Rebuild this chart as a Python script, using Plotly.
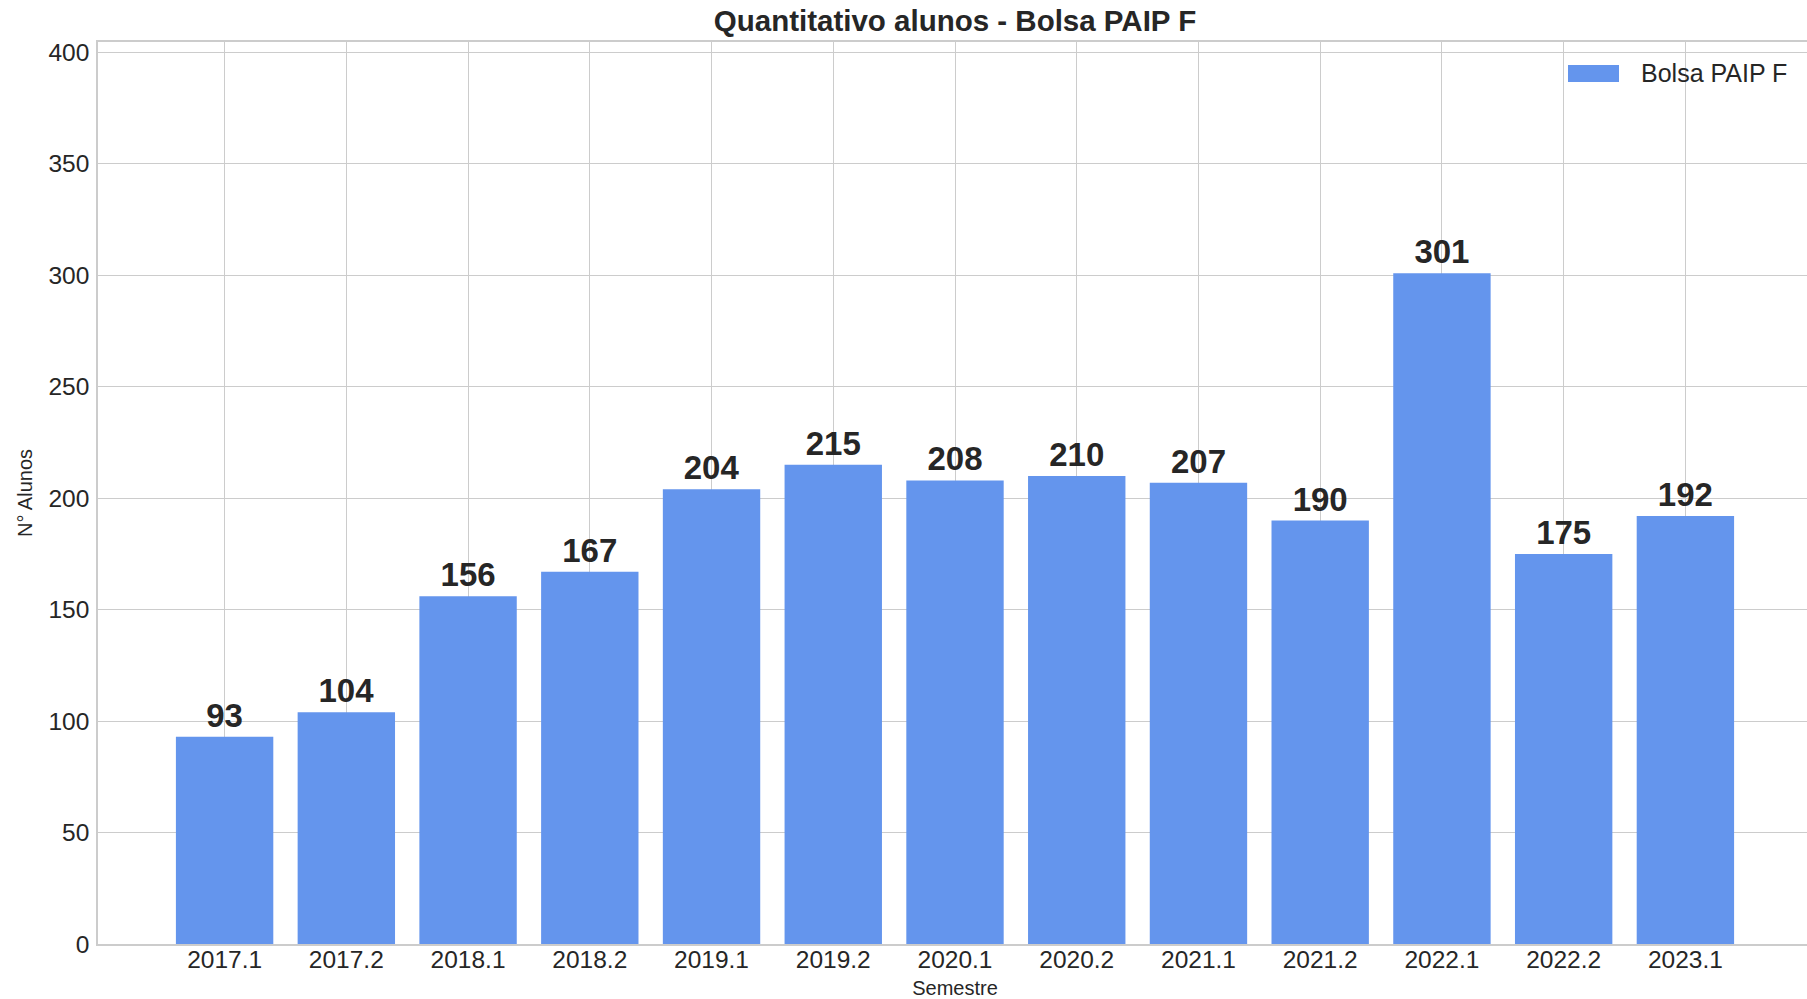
import plotly.graph_objects as go

semestres = ["2017.1", "2017.2", "2018.1", "2018.2", "2019.1", "2019.2", "2020.1",
             "2020.2", "2021.1", "2021.2", "2022.1", "2022.2", "2023.1"]
alunos = [93, 104, 156, 167, 204, 215, 208, 210, 207, 190, 301, 175, 192]
serie_nome = "Bolsa PAIP F"
titulo = "Quantitativo alunos - Bolsa PAIP F"
y_ticks = [0, 50, 100, 150, 200, 250, 300, 350, 400]

# the reference axes extends slightly past the right edge of the 1807px picture
W, H = 1812, 999
L, R, T, B = 98, 0, 42, 55
pw, ph = W - L - R, H - T - B

BAR = "#6495ED"
TXT = "#262626"
GRID = "#cccccc"
FONT = "Liberation Sans, Arial, sans-serif"

fig = go.Figure()
fig.add_trace(go.Bar(
    x=semestres, y=alunos, name=serie_nome,
    marker=dict(color=BAR, line=dict(width=0)),
    width=0.8,
    text=[str(v) for v in alunos], textposition="outside",
    textfont=dict(family=FONT, size=33, color=TXT, weight="bold"),
    cliponaxis=False, showlegend=False,
))

def px_x(px):
    return (px - L) / pw

def px_y(py):
    return (H - B - py) / ph

# legend drawn like the reference (wide patch + label)
fig.add_shape(type="rect", xref="paper", yref="paper",
              x0=px_x(1568), x1=px_x(1619), y0=px_y(82), y1=px_y(65),
              fillcolor=BAR, line=dict(width=0))
fig.add_annotation(xref="paper", yref="paper", x=px_x(1639), y=px_y(73),
                   text=serie_nome, showarrow=False, xanchor="left", yanchor="middle",
                   font=dict(family=FONT, size=25, color=TXT))

fig.update_layout(
    width=W, height=H,
    margin=dict(l=L, r=R, t=T, b=B, autoexpand=False),
    paper_bgcolor="white", plot_bgcolor="white",
    font=dict(family=FONT, color=TXT),
    title=dict(text=titulo, xref="paper", x=0.5, xanchor="center",
               yref="container", y=1 - 21 / H, yanchor="middle",
               font=dict(family=FONT, size=29.5, color=TXT, weight="bold")),
    xaxis=dict(
        type="category", categoryorder="array", categoryarray=semestres,
        range=[-1.04, 13.04],
        showgrid=True, gridcolor=GRID, gridwidth=1,
        showline=True, linecolor=GRID, linewidth=1.5, mirror=True,
        ticks="", ticklabelstandoff=-7,
        tickfont=dict(family=FONT, size=24.5, color=TXT),
        title=dict(text="Semestre", font=dict(family=FONT, size=20, color=TXT), standoff=10),
        automargin=False,
    ),
    yaxis=dict(
        range=[0, 404.7], tickvals=y_ticks,
        showgrid=True, gridcolor=GRID, gridwidth=1, zeroline=False,
        showline=True, linecolor=GRID, linewidth=1.5, mirror=True,
        ticks="", ticklabelstandoff=2,
        tickfont=dict(family=FONT, size=24.5, color=TXT),
        title=dict(text="N° Alunos", font=dict(family=FONT, size=20, color=TXT), standoff=10),
        automargin=False,
    ),
)

fig.write_html(
    "out.html",
    config={"displayModeBar": False},
    post_script="document.body.style.margin='0';document.body.style.overflow='hidden';",
)
